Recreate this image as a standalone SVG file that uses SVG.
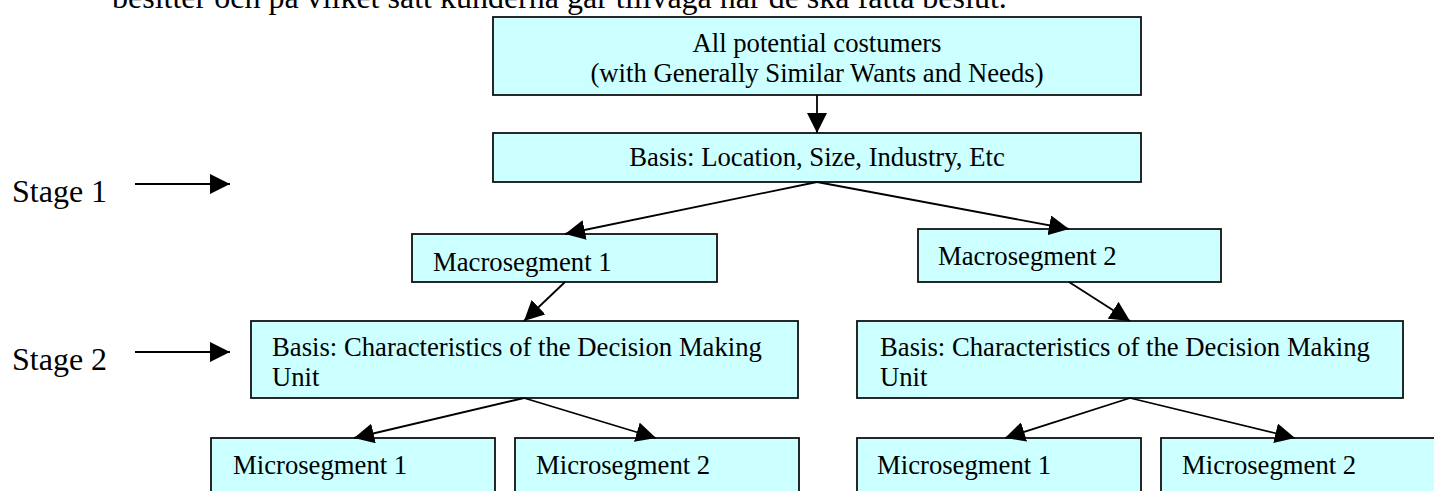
<svg xmlns="http://www.w3.org/2000/svg" width="1434" height="491" viewBox="0 0 1434 491">
  <defs>
    <marker id="head" viewBox="0 0 20 20" markerWidth="20" markerHeight="20" refX="20" refY="10" orient="auto" markerUnits="userSpaceOnUse">
      <path d="M0,0 L20,10 L0,20 Z" fill="#000"/>
    </marker>
    <style>
      .box { fill: #ccffff; stroke: #111; stroke-width: 1.8; }
      .t { font-family: "Liberation Serif", "Times New Roman", serif; font-size: 26.7px; fill: #000; }
      .body { font-family: "Liberation Serif", "Times New Roman", serif; font-size: 32px; fill: #000; }
      .mid { text-anchor: middle; }
      .link { stroke: #000; stroke-width: 1.8; fill: none; marker-end: url(#head); }
    </style>
  </defs>

  <rect width="1434" height="491" fill="#fff"/>

  <!-- running text of the page, clipped at the top edge -->
  <text class="body" x="112" y="8">besitter och på vilket sätt kunderna går tillväga när de ska fatta beslut.</text>

  <!-- stage labels -->
  <g id="stage1">
    <text class="body" x="12" y="202">Stage 1</text>
  </g>
  <g id="stage2">
    <text class="body" x="12" y="370">Stage 2</text>
  </g>

  <!-- segmentation tree -->
  <g id="all-customers">
    <rect class="box" x="493" y="17" width="648" height="78"/>
    <text class="t mid" x="817" y="52">All potential costumers</text>
    <text class="t mid" x="817" y="82">(with Generally Similar Wants and Needs)</text>
  </g>

  <g id="basis-stage1">
    <rect class="box" x="493" y="133" width="648" height="49"/>
    <text class="t mid" x="817" y="166">Basis: Location, Size, Industry, Etc</text>
  </g>

  <g id="macro1">
    <rect class="box" x="412" y="234" width="305" height="48"/>
    <text class="t" x="433" y="271">Macrosegment 1</text>
  </g>

  <g id="macro2">
    <rect class="box" x="918" y="229" width="303" height="53"/>
    <text class="t" x="938" y="265">Macrosegment 2</text>
  </g>

  <g id="basis-stage2-left">
    <rect class="box" x="251" y="321" width="547" height="77"/>
    <text class="t" x="272" y="356">Basis: Characteristics of the Decision Making</text>
    <text class="t" x="272" y="386">Unit</text>
  </g>

  <g id="basis-stage2-right">
    <rect class="box" x="857" y="321" width="546" height="77"/>
    <text class="t" x="880" y="356">Basis: Characteristics of the Decision Making</text>
    <text class="t" x="880" y="386">Unit</text>
  </g>

  <g id="micro1-left">
    <rect class="box" x="211" y="438" width="284" height="70"/>
    <text class="t" x="233" y="474">Microsegment 1</text>
  </g>
  <g id="micro2-left">
    <rect class="box" x="515" y="438" width="284" height="70"/>
    <text class="t" x="536" y="474">Microsegment 2</text>
  </g>
  <g id="micro1-right">
    <rect class="box" x="857" y="438" width="284" height="70"/>
    <text class="t" x="877" y="474">Microsegment 1</text>
  </g>
  <g id="micro2-right">
    <rect class="box" x="1161" y="438" width="290" height="70"/>
    <text class="t" x="1182" y="474">Microsegment 2</text>
  </g>

  <!-- connectors -->
  <g id="connectors">
    <line class="link" x1="135" y1="184" x2="230" y2="184"/>
    <line class="link" x1="135" y1="352" x2="230" y2="352"/>
    <line class="link" x1="817" y1="95" x2="817" y2="133"/>
    <line class="link" x1="817" y1="182" x2="565" y2="234"/>
    <line class="link" x1="817" y1="182" x2="1069" y2="229"/>
    <line class="link" x1="565" y1="282" x2="524" y2="321"/>
    <line class="link" x1="1069" y1="282" x2="1130" y2="321"/>
    <line class="link" x1="524" y1="398" x2="354" y2="438"/>
    <line class="link" x1="524" y1="398" x2="656" y2="438"/>
    <line class="link" x1="1130" y1="398" x2="1005" y2="438"/>
    <line class="link" x1="1130" y1="398" x2="1295" y2="438"/>
  </g>
</svg>
